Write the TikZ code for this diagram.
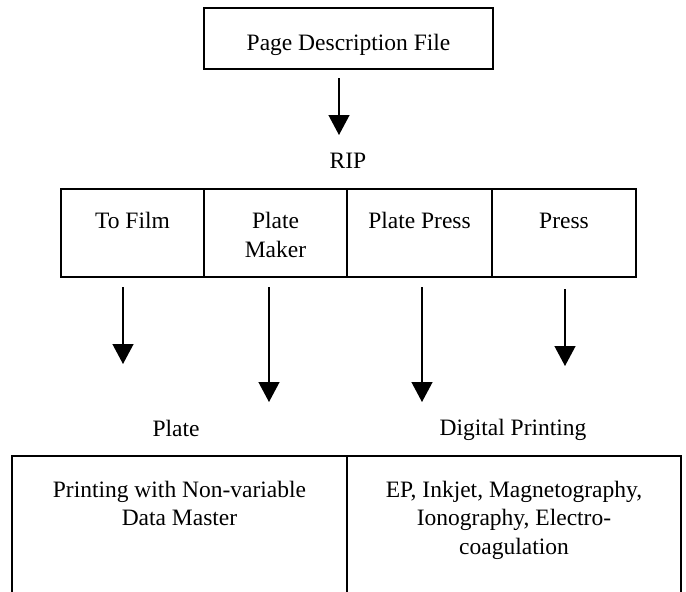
\documentclass[tikz,border=0pt]{standalone}
\usepackage{fontspec}
\setmainfont{Liberation Serif}
\usetikzlibrary{arrows.meta}
\begin{document}
\begin{tikzpicture}[x=1pt,y=-1pt,
  lbl/.style={anchor=base,align=center,inner sep=0pt,font=\fontsize{23.5}{28.5}\selectfont},
  frame/.style={line width=2pt},
  topframe/.style={line width=2.6pt},
  flow/.style={line width=1.3pt,-{Triangle[width=21pt,length=20pt]}}]
\useasboundingbox (0,0) rectangle (686,592);
\fill[white] (0,0) rectangle (686,592);
% top box
\draw[topframe] (204,8) rectangle (493,69);
\node[lbl] (pdf) at (348.5,50) {Page Description File};
\coordinate (a0s) at (339,78);
\coordinate (a0e) at (339,135);
\draw[flow] (a0s) -- (a0e);
\node[lbl] (rip) at (348,168) {RIP};
% row of cells
\draw[frame] (61,189) rectangle (636,277);
\draw[frame] (204,189) -- (204,277);
\draw[frame] (347,189) -- (347,277);
\draw[frame] (492,189) -- (492,277);
\node[lbl] (film) at (132.5,228) {To Film};
\node[lbl] (maker) at (275.5,257) {Plate\\Maker};
\node[lbl] (platepress) at (419.5,228) {Plate Press};
\node[lbl] (press) at (564,228) {Press};
% arrows
\coordinate (as) at (123,287);  \coordinate (ae) at (123,364);
\coordinate (bs) at (269,287);  \coordinate (be) at (269,402);
\coordinate (cs) at (422,287);  \coordinate (ce) at (422,402);
\coordinate (ds) at (565,289);  \coordinate (de) at (565,366);
\draw[flow] (as) -- (ae);
\draw[flow] (bs) -- (be);
\draw[flow] (cs) -- (ce);
\draw[flow] (ds) -- (de);
% lower labels
\node[lbl] (plate) at (176,436) {Plate};
\node[lbl] (digital) at (513,435.5) {Digital Printing};
% bottom box
\begin{scope}
\clip (0,0) rectangle (686,592);
\draw[frame] (12,456) rectangle (681,630);
\draw[frame] (347,456) -- (347,630);
\end{scope}
\node[lbl] (nonvar) at (179.5,525.5) {Printing with Non-variable\\Data Master};
\node[lbl] (ep) at (514,554) {EP, Inkjet, Magnetography,\\Ionography, Electro-\\coagulation};
\end{tikzpicture}
\end{document}
